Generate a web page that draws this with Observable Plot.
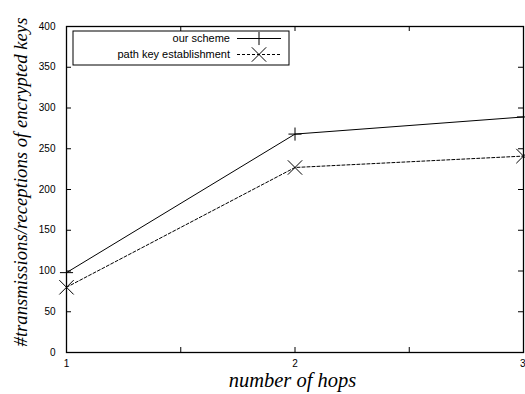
<!DOCTYPE html>
<html>
<head>
<meta charset="utf-8">
<script src="https://cdn.jsdelivr.net/npm/d3@7"></script>
<script src="https://cdn.jsdelivr.net/npm/@observablehq/plot@0.6"></script>
<style>
  html, body { margin: 0; padding: 0; background: #fff; }
  #chart svg { display: block; }
</style>
</head>
<body>
<div id="chart"></div>
<script>
// Number of hops on the x axis
const hops = [1, 2, 3];
// Key transmissions/receptions for each scheme
const ourScheme = [98, 268, 289];
const pathKey = [80, 227, 241];
const seriesNames = ["our scheme", "path key establishment"];
// Axis ticks
const yTicks = [0, 50, 100, 150, 200, 250, 300, 350, 400];
const xTicks = [1, 1.5, 2, 2.5, 3];
const xTickLabels = [1, 2, 3];

const W = 525, H = 394;
const mL = 66, mR = 2, mT = 26, mB = 42;
const innerW = W - mL - mR, innerH = H - mT - mB;
const tickLen = 5;

const rows = [
  ...hops.map((h, i) => ({hop: h, value: ourScheme[i], series: seriesNames[0]})),
  ...hops.map((h, i) => ({hop: h, value: pathKey[i], series: seriesNames[1]}))
];
const s0 = rows.filter(d => d.series === seriesNames[0]);
const s1 = rows.filter(d => d.series === seriesNames[1]);

const sans = "'Liberation Sans', Arial, Helvetica, sans-serif";
const serif = "'Liberation Serif', 'Times New Roman', serif";

const chart = Plot.plot({
  width: W,
  height: H,
  marginLeft: mL,
  marginRight: mR,
  marginTop: mT,
  marginBottom: mB,
  style: {fontFamily: sans, fontSize: "10px", color: "#000", background: "#fff"},
  x: {domain: [1, 3]},
  y: {domain: [0, 400]},
  marks: [
    // labels only; ticks are drawn inward below
    Plot.axisY(yTicks, {tickSize: 0, tickPadding: 11, fontSize: 10, label: null}),
    Plot.axisX(xTickLabels, {
      tickSize: 0, tickPadding: 7, fontSize: 10, label: null,
      tickFormat: d3.format("d")
    }),
    // inward ticks on all four sides
    Plot.tickY(yTicks, {y: d => d, stroke: "#000", insetRight: innerW - tickLen}),
    Plot.tickY(yTicks, {y: d => d, stroke: "#000", insetLeft: innerW - tickLen}),
    Plot.tickX(xTicks, {x: d => d, stroke: "#000", insetTop: innerH - tickLen}),
    Plot.tickX(xTicks, {x: d => d, stroke: "#000", insetBottom: innerH - tickLen}),
    // data lines
    Plot.line(s0, {x: "hop", y: "value", stroke: "#000", strokeWidth: 1}),
    Plot.line(s1, {x: "hop", y: "value", stroke: "#000", strokeWidth: 1, strokeDasharray: "3,2"}),
    Plot.dot(s0, {x: "hop", y: "value", symbol: "plus", r: 4.3, stroke: "#000", strokeWidth: 1}),
    Plot.dot(s1, {x: "hop", y: "value", symbol: "times", r: 6.6, stroke: "#000", strokeWidth: 1}),
    Plot.frame({stroke: "#000", strokeWidth: 1.3})
  ]
});

document.getElementById("chart").appendChild(chart);

const svg = d3.select(chart);

// Keep the last x tick label inside the canvas
svg.selectAll("[aria-label='x-axis tick label'] text")
  .filter(function() { return this.textContent === "3"; })
  .attr("text-anchor", "end")
  .attr("dx", 2);

// Axis titles
svg.append("text")
  .attr("transform", `translate(27,182) rotate(-90)`)
  .attr("text-anchor", "middle")
  .attr("font-family", serif)
  .attr("font-style", "italic")
  .attr("font-size", 18.7)
  .attr("fill", "#000")
  .text("#transmissions/receptions of encrypted keys");

svg.append("text")
  .attr("x", mL + innerW / 2 - 2)
  .attr("y", 387)
  .attr("text-anchor", "middle")
  .attr("font-family", serif)
  .attr("font-style", "italic")
  .attr("font-size", 20.5)
  .attr("fill", "#000")
  .text("number of hops");

// Legend box in the upper-left corner of the plot area
const lg = svg.append("g").attr("transform", `translate(${mL + 7},${mT + 5})`);
lg.append("rect")
  .attr("width", 216).attr("height", 34)
  .attr("fill", "#fff").attr("stroke", "#000").attr("stroke-width", 1);

const symPlus = d3.symbol(d3.symbolPlus, Math.PI * 4.3 * 4.3)();
const symTimes = d3.symbol(d3.symbolTimes, Math.PI * 6.6 * 6.6)();

seriesNames.forEach((name, i) => {
  const y = 7.5 + i * 16;
  lg.append("text")
    .attr("x", 157).attr("y", y).attr("dy", "0.35em")
    .attr("text-anchor", "end")
    .attr("font-family", sans).attr("font-size", 11)
    .attr("fill", "#000")
    .text(name);
  lg.append("line")
    .attr("x1", 164).attr("x2", 208).attr("y1", y).attr("y2", y)
    .attr("stroke", "#000").attr("stroke-width", 1)
    .attr("stroke-dasharray", i === 1 ? "3,2" : null);
  lg.append("path")
    .attr("d", i === 0 ? symPlus : symTimes)
    .attr("transform", `translate(186,${y})`)
    .attr("fill", "none").attr("stroke", "#000").attr("stroke-width", 1);
});
</script>
</body>
</html>
